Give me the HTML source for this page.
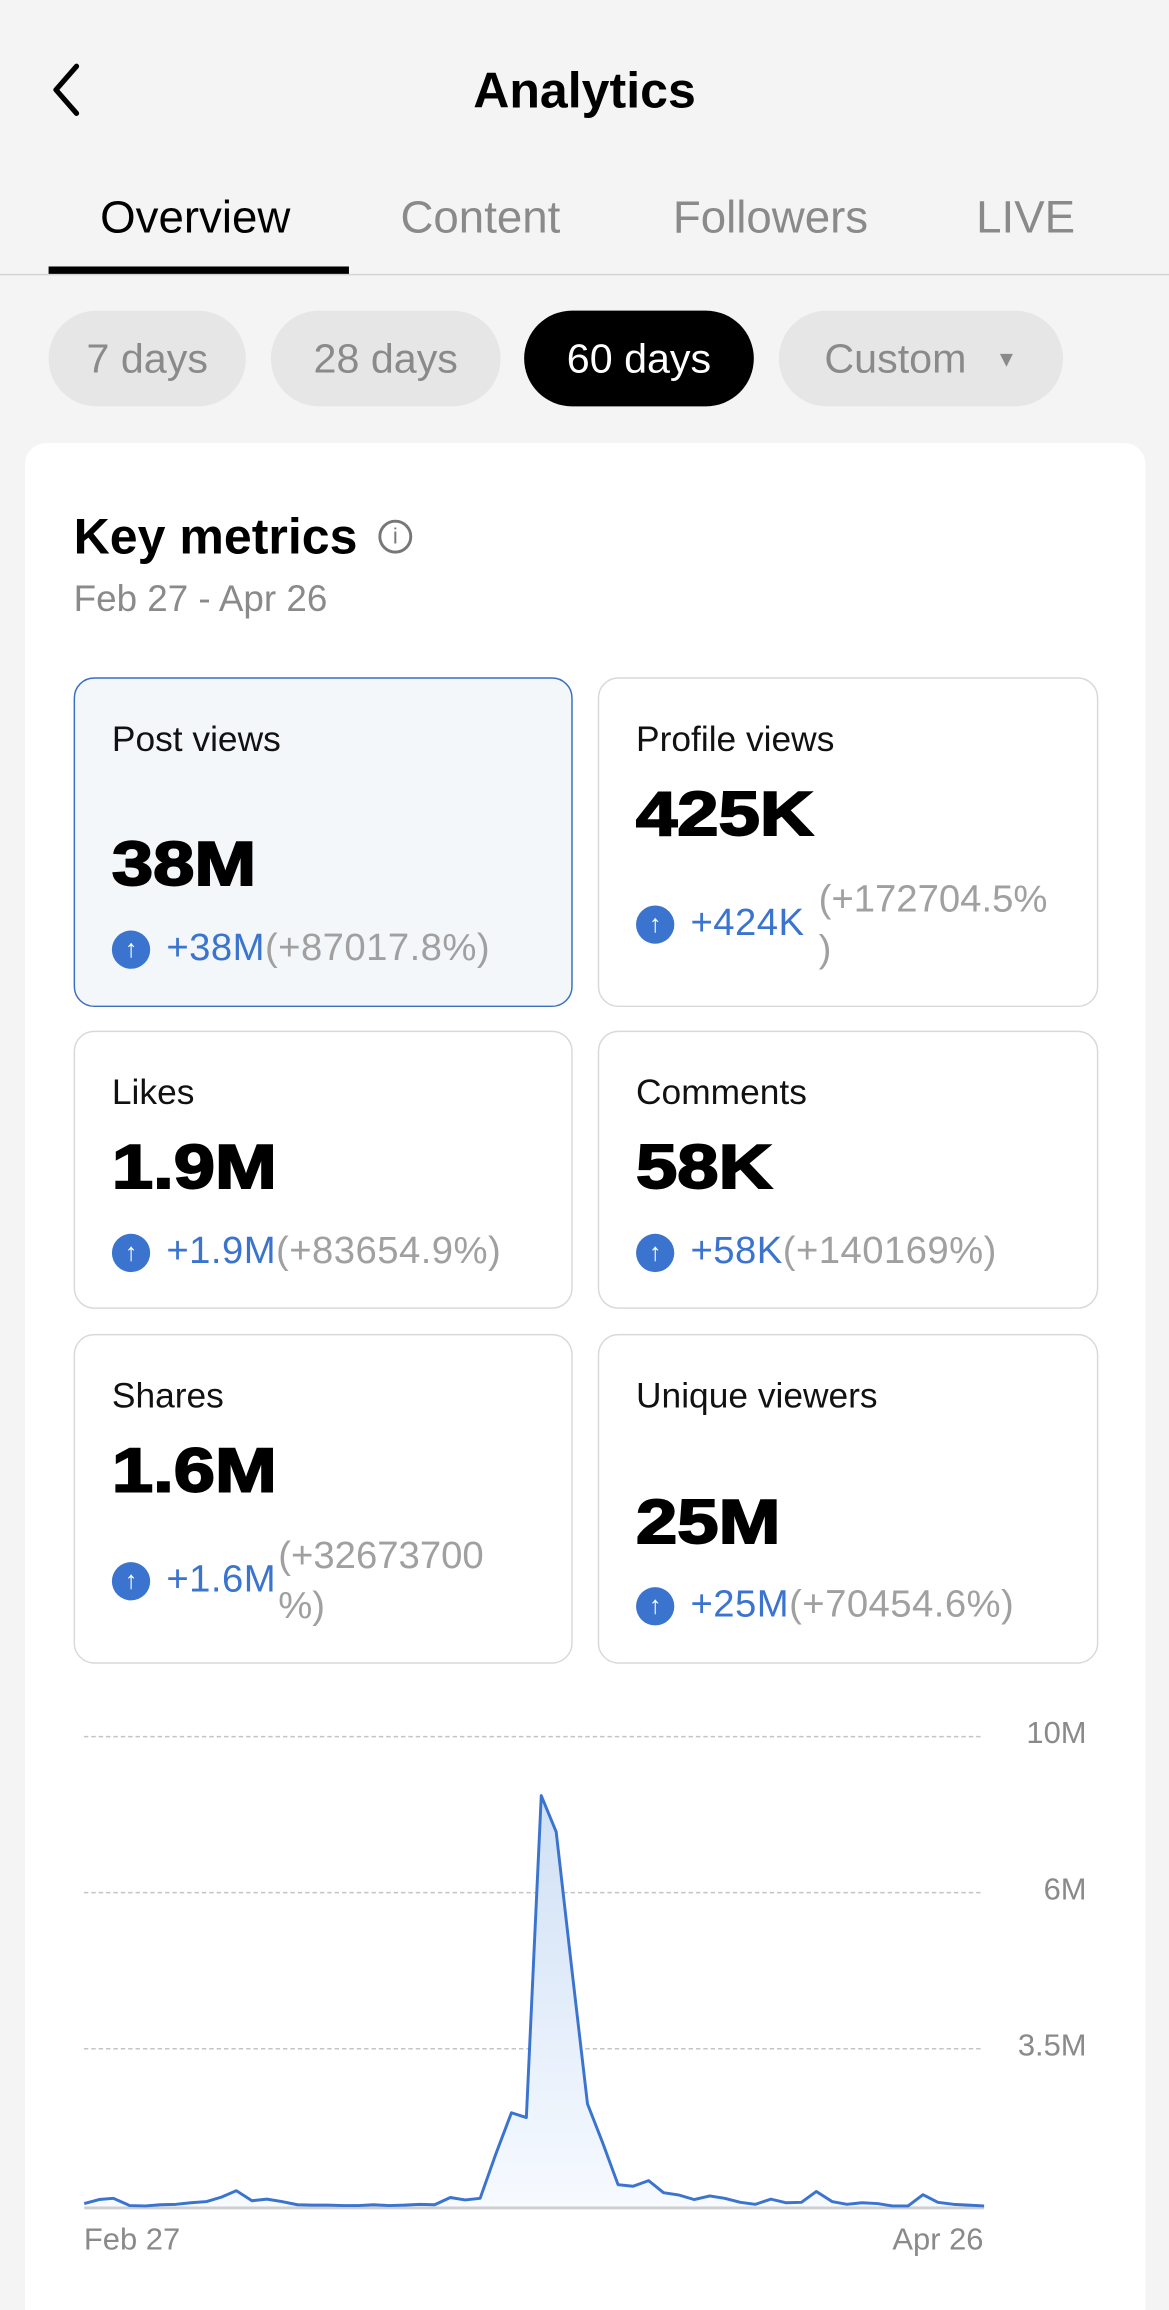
<!DOCTYPE html>
<html><head><meta charset="utf-8"><style>
html{margin:0;padding:0;width:1169px;height:2310px;overflow:hidden;background:#f4f4f4;}
body{margin:0;padding:0;width:1169px;height:2310px;overflow:hidden;position:relative;background:#f4f4f4;font-family:"Liberation Sans",Arial,sans-serif;}
#w{position:absolute;left:0;top:0;width:794px;height:1569px;overflow:hidden;transform:scale(1.4723);transform-origin:0 0;}
.a{position:absolute;white-space:nowrap;}
.pill{position:absolute;top:211px;height:65px;border-radius:33px;background:#e6e6e6;color:#8a8a8a;font-size:28px;line-height:65px;text-align:center;}
.card{position:absolute;border:1.5px solid #d9d9d9;border-radius:14px;box-sizing:border-box;background:#fff;}
.lbl{position:absolute;left:25px;font-size:24px;color:#111;}
.val{position:absolute;left:25px;font-size:42px;font-weight:bold;color:#000;-webkit-text-stroke:1.3px #000;transform:scaleX(1.2);transform-origin:0 50%;}
.ch{position:absolute;left:25px;font-size:26px;color:#3a74cf;white-space:nowrap;letter-spacing:0.3px;}
.ch .g{color:#a0a0a0;}
.ic{display:inline-block;width:26px;height:26px;border-radius:50%;background:#3a74cf;color:#fff;font-size:17px;line-height:26px;text-align:center;vertical-align:2px;margin-right:11px;font-weight:bold;letter-spacing:0;}
.grid{position:absolute;left:57px;width:609px;border-top:1.5px dashed #c4c4c4;}
.yl{position:absolute;right:56px;font-size:21px;color:#8a8a8a;}
</style></head><body><div id="w">
<svg class="a" style="left:30px;top:42px" width="30" height="38" viewBox="0 0 30 38"><polyline points="22,3 8,19 22,35" fill="none" stroke="#000" stroke-width="3.5" stroke-linecap="round" stroke-linejoin="round"/></svg>
<div class="a" style="left:0;width:794px;text-align:center;top:43px;font-size:34px;font-weight:bold;">Analytics</div>
<div class="a" style="left:68px;top:130px;font-size:31px;color:#000;">Overview</div>
<div class="a" style="left:272px;top:130px;font-size:31px;color:#8a8a8a;">Content</div>
<div class="a" style="left:457px;top:130px;font-size:31px;color:#8a8a8a;">Followers</div>
<div class="a" style="left:663px;top:130px;font-size:31px;color:#8a8a8a;">LIVE</div>
<div class="a" style="left:0;top:186px;width:794px;height:1px;background:#d4d4d4;"></div>
<div class="a" style="left:33px;top:181px;width:204px;height:5px;background:#000;"></div>
<div class="pill" style="left:33px;width:134px;">7 days</div>
<div class="pill" style="left:184px;width:156px;">28 days</div>
<div class="pill" style="left:356px;width:156px;background:#000;color:#fff;">60 days</div>
<div class="pill" style="left:529px;width:193px;">Custom <span style="font-size:15px;vertical-align:4px;margin-left:12px;">▼</span></div>
<div class="a" style="left:17px;top:301px;width:761px;height:1300px;background:#fff;border-radius:14px;"></div>
<div class="a" style="left:50px;top:346px;font-size:34px;font-weight:bold;">Key metrics</div>
<div class="a" style="left:257px;top:353px;width:23px;height:23px;border:2px solid #777;border-radius:50%;box-sizing:border-box;color:#777;font-size:15px;line-height:19px;text-align:center;">i</div>
<div class="a" style="left:50px;top:393px;font-size:25px;color:#8a8a8a;">Feb 27 - Apr 26</div>

<div class="card" style="left:50px;top:460px;width:339px;height:224px;background:#f3f7fa;border-color:#3a6fbf;">
<div class="lbl" style="top:28px">Post views</div><div class="val" style="top:102px">38M</div>
<div class="ch" style="top:167px"><span class="ic">↑</span>+38M<span class="g">(+87017.8%)</span></div></div>
<div class="card" style="left:406px;top:460px;width:340px;height:224px;">
<div class="lbl" style="top:28px">Profile views</div><div class="val" style="top:68px">425K</div>
<div class="ch" style="top:150px"><span class="ic">↑</span>+424K</div>
<div class="a" style="left:149px;top:132px;font-size:26px;color:#a0a0a0;line-height:34px;">(+172704.5%<br>)</div></div>

<div class="card" style="left:50px;top:700px;width:339px;height:189px;">
<div class="lbl" style="top:28px">Likes</div><div class="val" style="top:68px">1.9M</div>
<div class="ch" style="top:133px"><span class="ic">↑</span>+1.9M<span class="g">(+83654.9%)</span></div></div>
<div class="card" style="left:406px;top:700px;width:340px;height:189px;">
<div class="lbl" style="top:28px">Comments</div><div class="val" style="top:68px">58K</div>
<div class="ch" style="top:133px"><span class="ic">↑</span>+58K<span class="g">(+140169%)</span></div></div>

<div class="card" style="left:50px;top:906px;width:339px;height:224px;">
<div class="lbl" style="top:28px">Shares</div><div class="val" style="top:68px">1.6M</div>
<div class="ch" style="top:150px"><span class="ic">↑</span>+1.6M</div>
<div class="a" style="left:138px;top:132px;font-size:26px;color:#a0a0a0;line-height:34px;">(+32673700<br>%)</div></div>
<div class="card" style="left:406px;top:906px;width:340px;height:224px;">
<div class="lbl" style="top:28px">Unique viewers</div><div class="val" style="top:103px">25M</div>
<div class="ch" style="top:167px"><span class="ic">↑</span>+25M<span class="g">(+70454.6%)</span></div></div>

<div class="grid" style="top:1179px"></div>
<div class="grid" style="top:1285px"></div>
<div class="grid" style="top:1391px"></div>
<div class="yl" style="top:1166px">10M</div>
<div class="yl" style="top:1272px">6M</div>
<div class="yl" style="top:1378px">3.5M</div>
<svg class="a" style="left:0;top:1141px" width="794" height="428" viewBox="0 0 1568 1568" preserveAspectRatio="none">
<defs><linearGradient id="gf" x1="0" y1="0" x2="0" y2="1"><stop offset="0" stop-color="#cfe0f5"/><stop offset="1" stop-color="#f7faff"/></linearGradient></defs>
<polygon fill="url(#gf)" points="113,1314 113,1303 133,1293 152,1290 174,1308 195,1309 215,1306 236,1305 256,1301 277,1298 297,1287 317,1271 338,1296 358,1292 378,1298 399,1306 419,1307 440,1307 460,1308 481,1308 501,1306 522,1308 542,1307 563,1305 583,1306 604,1288 624,1294 644,1290 665,1180 686,1077 706,1089 726,288 746,378 767,720 788,1055 808,1150 829,1256 849,1260 870,1246 890,1276 911,1282 931,1293 952,1284 972,1290 993,1300 1013,1305 1034,1292 1054,1301 1075,1300 1095,1273 1116,1298 1136,1305 1156,1301 1177,1303 1197,1309 1218,1309 1238,1281 1258,1300 1279,1305 1299,1307 1320,1309 1320,1314"/>
<line x1="113" y1="1314" x2="1320" y2="1314" stroke="#cfcfcf" stroke-width="2" vector-effect="non-scaling-stroke"/>
<polyline fill="none" stroke="#3a74cf" stroke-width="2" stroke-linejoin="round" vector-effect="non-scaling-stroke" points="113,1303 133,1293 152,1290 174,1308 195,1309 215,1306 236,1305 256,1301 277,1298 297,1287 317,1271 338,1296 358,1292 378,1298 399,1306 419,1307 440,1307 460,1308 481,1308 501,1306 522,1308 542,1307 563,1305 583,1306 604,1288 624,1294 644,1290 665,1180 686,1077 706,1089 726,288 746,378 767,720 788,1055 808,1150 829,1256 849,1260 870,1246 890,1276 911,1282 931,1293 952,1284 972,1290 993,1300 1013,1305 1034,1292 1054,1301 1075,1300 1095,1273 1116,1298 1136,1305 1156,1301 1177,1303 1197,1309 1218,1309 1238,1281 1258,1300 1279,1305 1299,1307 1320,1309"/>
</svg>
<div class="a" style="left:57px;top:1510px;font-size:21px;color:#8a8a8a;">Feb 27</div>
<div class="a" style="right:126px;top:1510px;font-size:21px;color:#8a8a8a;">Apr 26</div>
</div></body></html>
